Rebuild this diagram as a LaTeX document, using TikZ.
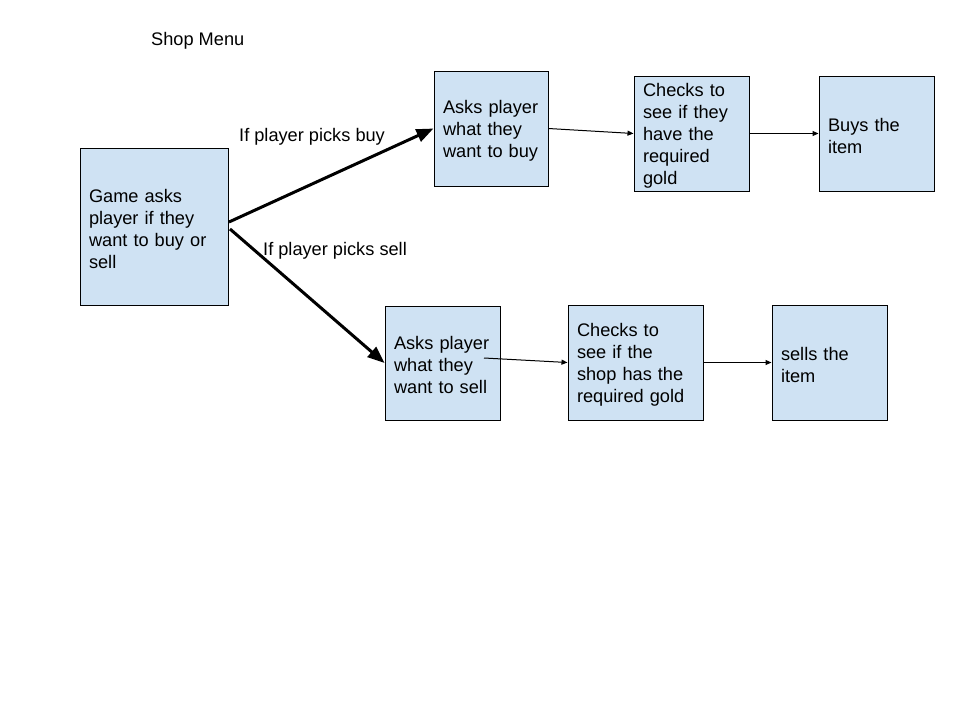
\documentclass[tikz,border=0pt]{standalone}
\usepackage{fontspec}
\setmainfont{Liberation Sans}
\usetikzlibrary{arrows.meta}
\definecolor{boxblue}{HTML}{CFE2F3}
\begin{document}
\begin{tikzpicture}[x=1pt,y=-1pt,
  every node/.style={font=\fontsize{18.2}{22}\selectfont},
  box/.style={draw=black, line width=1pt, fill=boxblue, align=left, inner xsep=9pt, inner ysep=0pt,
    execute at begin node={\rule{0pt}{17.5pt}}},
  lbl/.style={inner sep=0pt, anchor=west},
  bigarrow/.style={line width=3pt, -{Triangle[length=17pt,width=13pt]}},
  smallarrow/.style={line width=1pt, -{Triangle[length=6pt,width=5pt]}}]
\useasboundingbox (0,0) rectangle (960,720);
\fill[white] (0,0) rectangle (960,720);

\node[lbl] (title) at (151,41) {Shop Menu};

\node[box, text width=130pt, minimum height=157pt] (game) at (154,226.5) {Game asks\\player if they\\want to buy or\\sell};
\node[box, text width=96pt, minimum height=115pt] (buyask) at (491,128.5) {Asks player\\what they\\want to buy};
\node[box, text width=97pt, minimum height=115pt] (buycheck) at (691.5,133.5) {Checks to\\see if they\\have the\\required\\gold};
\node[box, text width=97pt, minimum height=115pt] (buys) at (876.5,133.5) {Buys the\\item};
\node[box, text width=97pt, minimum height=114pt] (sellask) at (442.5,363) {Asks player\\what they\\want to sell};
\node[box, text width=117pt, minimum height=115pt] (sellcheck) at (635.5,362.5) {Checks to\\see if the\\shop has the\\required gold};
\node[box, text width=97pt, minimum height=115pt] (sells) at (829.5,362.5) {sells the\\item};

\node[lbl] (buylbl) at (239,137) {If player picks buy};
\node[lbl] (selllbl) at (263,251) {If player picks sell};

\coordinate (g1) at (229,222);
\coordinate (g2) at (230,229);
\coordinate (s1) at (484,358);

\draw[bigarrow] (g1) -- (buyask.west);
\draw[bigarrow] (g2) -- (sellask.west);
\draw[smallarrow] (buyask.east) -- (buycheck.west);
\draw[smallarrow] (buycheck.east) -- (buys.west);
\draw[smallarrow] (s1) -- (sellcheck.west);
\draw[smallarrow] (sellcheck.east) -- (sells.west);
\end{tikzpicture}
\end{document}
